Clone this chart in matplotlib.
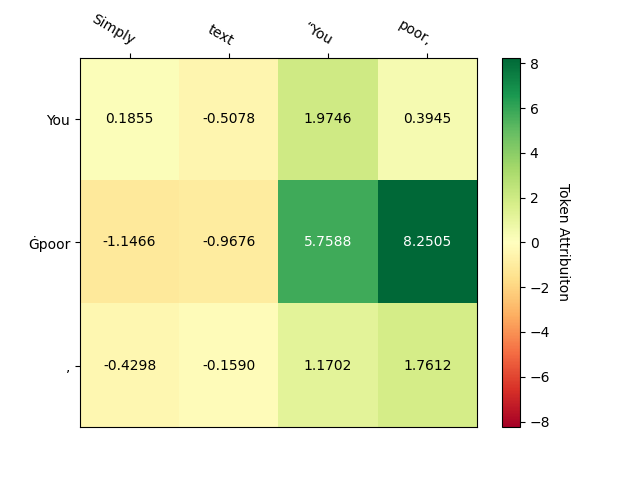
import numpy as np
import matplotlib
matplotlib.use("Agg")
import matplotlib.pyplot as plt

# Tokens and attribution scores
x_tokens = ["Simply", "text", "\u201cYou", "poor,"]
y_tokens = ["You", "\u0120poor", ","]
scores = np.array([
    [0.1855, -0.5078, 1.9746, 0.3945],
    [-1.1466, -0.9676, 5.7588, 8.2505],
    [-0.4298, -0.1590, 1.1702, 1.7612],
])

vmax = np.abs(scores).max()

fig, ax = plt.subplots(figsize=(6.4, 4.8))
im = ax.imshow(scores, cmap="RdYlGn", vmin=-vmax, vmax=vmax, aspect="auto")
cbar = fig.colorbar(im, ax=ax)
cbar.ax.set_ylabel("Token Attribuiton", rotation=-90, va="bottom")

ax.set_xticks(np.arange(len(x_tokens)), labels=x_tokens)
ax.set_yticks(np.arange(len(y_tokens)), labels=y_tokens)
ax.tick_params(top=True, bottom=False, labeltop=True, labelbottom=False)
plt.setp(ax.get_xticklabels(), rotation=-30, ha="right", rotation_mode="anchor")

for i in range(len(y_tokens)):
    for j in range(len(x_tokens)):
        v = scores[i, j]
        ax.text(j, i, f"{v:.4f}", ha="center", va="center",
                color="white" if abs(v) > 5 else "black")

plt.savefig("out.png", dpi=100)
